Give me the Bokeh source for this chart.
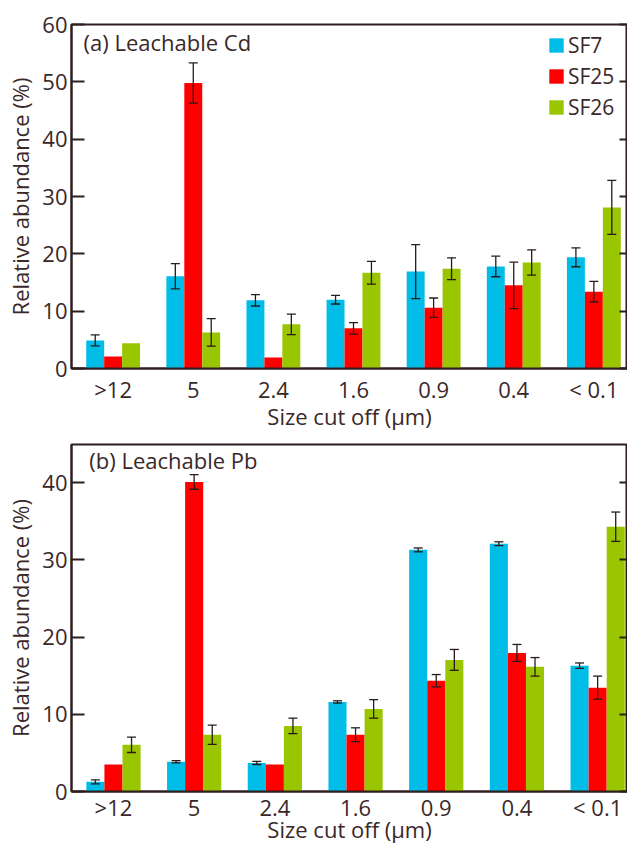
from bokeh.plotting import figure
from bokeh.models import (ColumnDataSource, Range1d, FixedTicker, LinearAxis, Whisker,
                          TeeHead, Legend, LegendItem, Label)
from bokeh.layouts import column
from bokeh.embed import file_html
from bokeh.resources import INLINE

categories = [">12", "5", "2.4", "1.6", "0.9", "0.4", "< 0.1"]
series_names = ["SF7", "SF25", "SF26"]
colors = ["#00bde8", "#ff0000", "#99c600"]

# (a) Leachable Cd
cd_sf7 = [4.9, 16.1, 11.9, 12.0, 16.9, 17.8, 19.4]
cd_sf25 = [2.1, 49.8, 1.9, 7.0, 10.6, 14.5, 13.4]
cd_sf26 = [4.4, 6.3, 7.7, 16.7, 17.4, 18.5, 28.1]
cd_sf7_err = [0.95, 2.2, 1.0, 0.75, 4.7, 1.8, 1.65]
cd_sf25_err = [0.0, 3.5, 0.0, 1.0, 1.7, 4.05, 1.8]
cd_sf26_err = [0.0, 2.4, 1.8, 2.0, 1.9, 2.2, 4.7]

# (b) Leachable Pb
pb_sf7 = [1.25, 3.85, 3.7, 11.6, 31.3, 32.1, 16.3]
pb_sf25 = [3.5, 40.1, 3.5, 7.35, 14.35, 17.95, 13.45]
pb_sf26 = [6.05, 7.35, 8.5, 10.7, 17.05, 16.15, 34.3]
pb_sf7_err = [0.25, 0.15, 0.2, 0.15, 0.25, 0.25, 0.35]
pb_sf25_err = [0.0, 0.95, 0.0, 0.9, 0.8, 1.1, 1.5]
pb_sf26_err = [1.0, 1.25, 1.0, 1.2, 1.35, 1.2, 1.9]

FONT = "Open Sans"
TXT = "#3a2828"
AX = "#2e1f1f"
BW = 0.224


def make_panel(title, vals, errs, yend, yticks, height, mb_left, mb_top, mb_bottom,
               xstart, xend, label_xy, xl_standoff, xa_standoff, legend=False):
    p = figure(width=627, height=height, output_backend="svg", toolbar_location=None,
               x_range=Range1d(xstart, xend), y_range=Range1d(0, yend),
               min_border_left=mb_left, min_border_top=mb_top, min_border_bottom=mb_bottom,
               min_border_right=0)
    p.grid.visible = False
    p.outline_line_color = AX
    p.outline_line_width = 2
    p.outline_line_alpha = 1
    p.background_fill_color = "white"
    p.border_fill_color = "white"

    # x axis
    xa = p.xaxis[0]
    xa.ticker = FixedTicker(ticks=list(range(len(categories))))
    xa.major_label_overrides = {i: c for i, c in enumerate(categories)}
    xa.major_tick_in = 0
    xa.major_tick_out = 0
    xa.minor_tick_line_color = None
    xa.axis_line_color = AX
    xa.axis_line_width = 2
    xa.major_label_text_font = FONT
    xa.major_label_text_font_size = "22px"
    xa.major_label_text_color = TXT
    xa.major_label_standoff = xl_standoff
    xa.axis_label = "Size cut off (\u03bcm)"
    xa.axis_label_text_font = FONT
    xa.axis_label_text_font_size = "22px"
    xa.axis_label_text_font_style = "normal"
    xa.axis_label_text_color = TXT
    xa.axis_label_standoff = xa_standoff

    ya = p.yaxis[0]
    ya.ticker = FixedTicker(ticks=yticks)
    ya.major_tick_in = 13
    ya.major_tick_out = 0
    ya.major_tick_line_color = AX
    ya.major_tick_line_width = 2
    ya.minor_tick_line_color = None
    ya.axis_line_color = AX
    ya.axis_line_width = 2
    ya.major_label_text_font = FONT
    ya.major_label_text_font_size = "22px"
    ya.major_label_text_color = TXT
    ya.major_label_standoff = 4
    ya.axis_label = "Relative abundance (%)"
    ya.axis_label_text_font = FONT
    ya.axis_label_text_font_size = "22px"
    ya.axis_label_text_font_style = "normal"
    ya.axis_label_text_color = TXT
    ya.axis_label_standoff = 4

    ra = LinearAxis(ticker=FixedTicker(ticks=yticks))
    ra.major_label_overrides = {t: "" for t in yticks}
    ra.major_label_text_font_size = "1px"
    ra.major_label_standoff = 0
    ra.major_tick_in = 8
    ra.major_tick_out = 0
    ra.major_tick_line_color = AX
    ra.major_tick_line_width = 2
    ra.minor_tick_line_color = None
    ra.axis_line_color = AX
    ra.axis_line_width = 2
    p.add_layout(ra, "right")

    offsets = [-BW, 0.0, BW]
    renderers = []
    for k in range(3):
        xs = [i + offsets[k] for i in range(len(categories))]
        src = ColumnDataSource(dict(x=xs, top=vals[k]))
        r = p.vbar(x="x", top="top", width=BW, bottom=0, source=src,
                   fill_color=colors[k], line_color=None)
        renderers.append(r)
    for k in range(3):
        xs, lo, hi = [], [], []
        for i in range(len(categories)):
            if errs[k][i] > 0:
                xs.append(i + offsets[k])
                lo.append(vals[k][i] - errs[k][i])
                hi.append(vals[k][i] + errs[k][i])
        esrc = ColumnDataSource(dict(base=xs, lower=lo, upper=hi))
        w = Whisker(base="base", lower="lower", upper="upper", source=esrc,
                    dimension="height", line_color="#2a1a1a", line_width=1.3,
                    level="annotation",
                    upper_head=TeeHead(size=9, line_color="#2a1a1a", line_width=1.3),
                    lower_head=TeeHead(size=9, line_color="#2a1a1a", line_width=1.3))
        p.add_layout(w)

    lab = Label(x=label_xy[0], y=label_xy[1], text=title, text_font=FONT,
                text_font_size="22px", text_color=TXT, text_baseline="alphabetic")
    p.add_layout(lab)

    if legend:
        items = [LegendItem(label=series_names[k], renderers=[renderers[k]]) for k in range(3)]
        lg = Legend(items=items, location=(476, 247), padding=0, margin=0, spacing=3,
                    glyph_width=18, glyph_height=18, label_standoff=3,
                    label_text_font=FONT, label_text_font_size="21px",
                    label_text_color=TXT, border_line_color=None,
                    background_fill_alpha=0)
        p.add_layout(lg)
    return p


p1 = make_panel("(a) Leachable Cd", [cd_sf7, cd_sf25, cd_sf26],
                [cd_sf7_err, cd_sf25_err, cd_sf26_err], 60, [0, 10, 20, 30, 40, 50, 60],
                435, 69, 24, 67, -0.52, 6.42, (-0.37, 56.9), 5, -6, legend=True)
p2 = make_panel("(b) Leachable Pb", [pb_sf7, pb_sf25, pb_sf26],
                [pb_sf7_err, pb_sf25_err, pb_sf26_err], 44.95, [0, 10, 20, 30, 40],
                411, 71, 9, 55, -0.52, 6.37, (-0.30, 42.9), 0, -11)

layout = column(p1, p2, spacing=0)
open("out.html", "w").write(file_html(layout, INLINE))
